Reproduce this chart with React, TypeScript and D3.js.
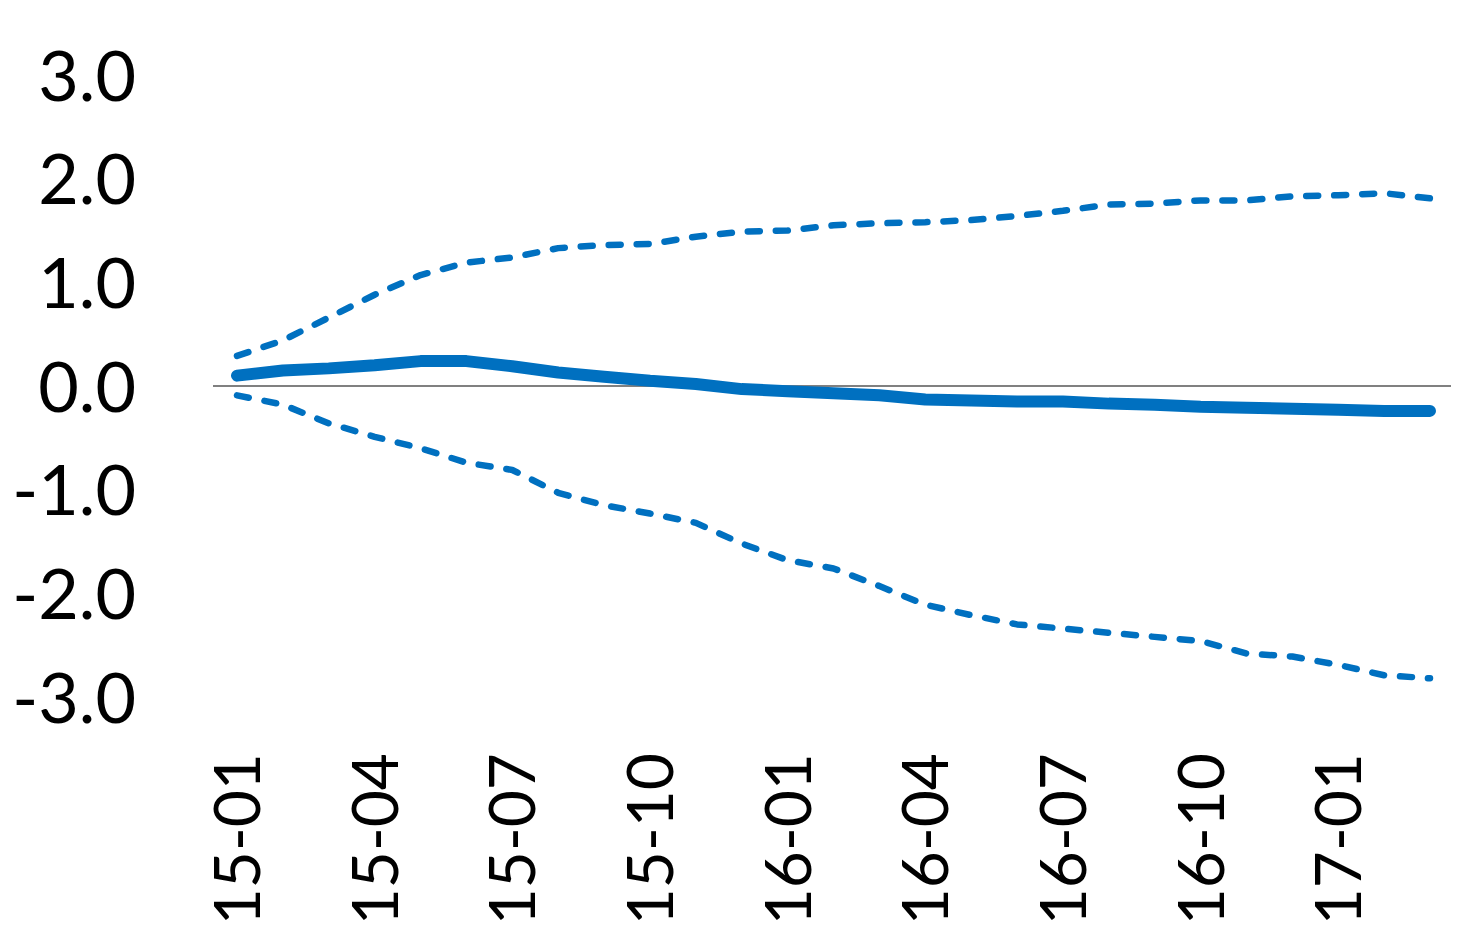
import React, { useRef, useEffect } from 'react'
import * as d3 from 'd3'

const months = [
  '15-01', '15-02', '15-03', '15-04', '15-05', '15-06', '15-07', '15-08', '15-09',
  '15-10', '15-11', '15-12', '16-01', '16-02', '16-03', '16-04', '16-05', '16-06',
  '16-07', '16-08', '16-09', '16-10', '16-11', '16-12', '17-01', '17-02', '17-03',
]
const tickLabels = ['15-01', '15-04', '15-07', '15-10', '16-01', '16-04', '16-07', '16-10', '17-01']
const yTicks = [3, 2, 1, 0, -1, -2, -3]

const central = [
  0.10, 0.15, 0.17, 0.20, 0.24, 0.24, 0.19, 0.13, 0.09, 0.05, 0.02, -0.03, -0.05, -0.07,
  -0.09, -0.13, -0.14, -0.15, -0.15, -0.17, -0.18, -0.20, -0.21, -0.22, -0.23, -0.24, -0.24,
]
const upper = [
  0.29, 0.44, 0.66, 0.88, 1.07, 1.19, 1.24, 1.33, 1.36, 1.37, 1.44, 1.49, 1.50, 1.55,
  1.57, 1.58, 1.60, 1.64, 1.69, 1.75, 1.76, 1.79, 1.79, 1.83, 1.84, 1.86, 1.81,
]
const lower = [
  -0.09, -0.18, -0.36, -0.49, -0.60, -0.74, -0.81, -1.03, -1.15, -1.23, -1.32, -1.52, -1.68, -1.76,
  -1.93, -2.11, -2.21, -2.30, -2.34, -2.38, -2.42, -2.46, -2.58, -2.61, -2.69, -2.79, -2.82,
]

const W = 1482
const H = 948
const blue = '#0070C0'
const font = 'Lato, "Open Sans", sans-serif'

export default function App() {
  const svgRef = useRef<SVGSVGElement>(null)

  useEffect(() => {
    const svg = d3.select(svgRef.current)
    svg.selectAll('*').remove()

    const x = d3.scalePoint<string>().domain(months).range([237, 1430])
    const y = d3.scaleLinear().domain([-3, 3]).range([697, 75])

    // y labels (plain hyphen for negatives, like the original)
    const yAxis = d3.axisLeft(y).tickValues(yTicks).tickSize(0).tickPadding(0)
      .tickFormat(d => (d as number).toFixed(1))
    const gy = svg.append('g').attr('transform', 'translate(136,0)').call(yAxis)
    gy.select('.domain').remove()
    gy.selectAll('text')
      .attr('font-family', font)
      .attr('font-size', 70)
      .attr('fill', '#000')
      .attr('dy', '0.36em')

    // zero line
    svg.append('line')
      .attr('x1', 213).attr('x2', 1451)
      .attr('y1', y(0)).attr('y2', y(0))
      .attr('stroke', '#808080').attr('stroke-width', 2)

    // x labels
    const gx = svg.append('g')
    gx.selectAll('text')
      .data(tickLabels)
      .join('text')
      .attr('transform', d => `translate(${x(d)},753) rotate(-90)`)
      .attr('text-anchor', 'end')
      .attr('dy', '0.36em')
      .attr('font-family', font)
      .attr('font-size', 64)
      .attr('fill', '#000')
      .text(d => d)

    const line = d3.line<number>()
      .x((_, i) => x(months[i]) as number)
      .y(d => y(d))

    svg.selectAll('.band')
      .data([upper, lower])
      .join('path')
      .attr('class', 'band')
      .attr('d', d => line(d))
      .attr('fill', 'none')
      .attr('stroke', blue)
      .attr('stroke-width', 6.5)
      .attr('stroke-linecap', 'round')
      .attr('stroke-linejoin', 'round')
      .attr('stroke-dasharray', '12 16')

    svg.append('path')
      .attr('d', line(central))
      .attr('fill', 'none')
      .attr('stroke', blue)
      .attr('stroke-width', 12)
      .attr('stroke-linecap', 'round')
      .attr('stroke-linejoin', 'round')
  }, [])

  return (
    <svg
      ref={svgRef}
      width={W}
      height={H}
      style={{ position: 'absolute', left: 0, top: 0, background: '#fff' }}
    />
  )
}
